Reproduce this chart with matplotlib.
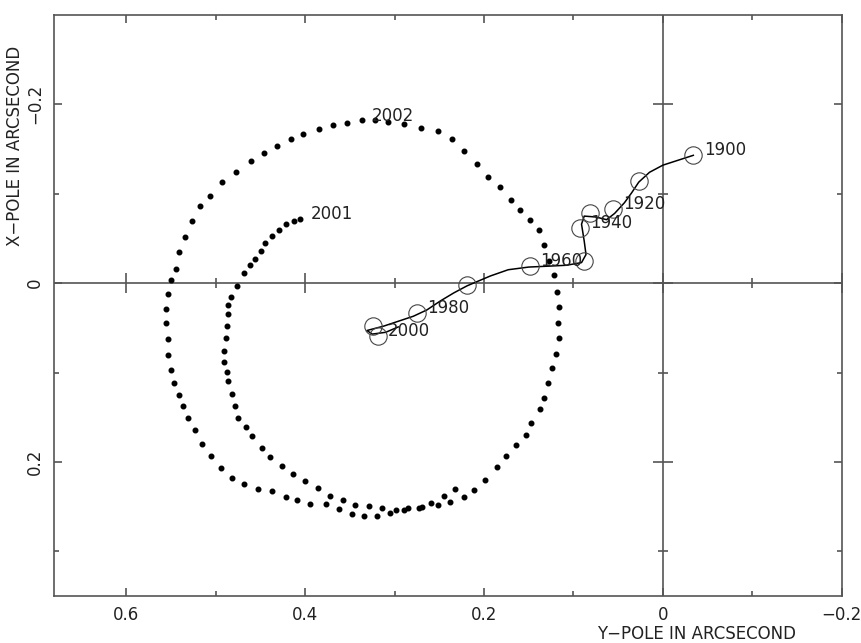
import matplotlib
matplotlib.use("Agg")
import matplotlib.pyplot as plt

# polar motion 2001-2002 (horizontal: y-pole, vertical: x-pole), arcsec
ypole_2001 = [0.406, 0.413, 0.422, 0.429, 0.437, 0.445, 0.450, 0.456, 0.462, 0.469,
              0.476, 0.483, 0.486, 0.486, 0.487, 0.489, 0.491, 0.491, 0.488, 0.486,
              0.482, 0.478, 0.475, 0.466, 0.459, 0.448, 0.439, 0.426, 0.414, 0.400,
              0.386, 0.372, 0.358, 0.344, 0.329, 0.314, 0.298, 0.285, 0.269, 0.259,
              0.245, 0.232, 0.211, 0.199, 0.186, 0.175, 0.164, 0.153, 0.148, 0.138,
              0.133, 0.128, 0.124, 0.119, 0.116, 0.117, 0.116, 0.118, 0.122, 0.127,
              0.133, 0.139, 0.149, 0.160, 0.170, 0.182, 0.196, 0.208, 0.223, 0.236,
              0.252, 0.270, 0.290, 0.307, 0.322]
xpole_2001 = [-0.072, -0.069, -0.066, -0.060, -0.053, -0.045, -0.036, -0.027, -0.020, -0.011,
              0.003, 0.016, 0.024, 0.035, 0.048, 0.061, 0.076, 0.088, 0.099, 0.110,
              0.124, 0.138, 0.151, 0.161, 0.171, 0.184, 0.195, 0.205, 0.213, 0.221,
              0.229, 0.238, 0.243, 0.248, 0.249, 0.252, 0.254, 0.251, 0.250, 0.246,
              0.238, 0.230, 0.231, 0.220, 0.206, 0.193, 0.181, 0.170, 0.157, 0.141,
              0.128, 0.112, 0.095, 0.079, 0.061, 0.045, 0.027, 0.010, -0.009, -0.025,
              -0.043, -0.060, -0.071, -0.082, -0.093, -0.107, -0.119, -0.133, -0.148, -0.161,
              -0.170, -0.174, -0.178, -0.180, -0.183]

ypole_2002 = [0.337, 0.353, 0.369, 0.385, 0.402, 0.416, 0.432, 0.446, 0.461, 0.477,
              0.493, 0.506, 0.518, 0.527, 0.535, 0.541, 0.545, 0.550, 0.553, 0.556,
              0.556, 0.554, 0.553, 0.550, 0.547, 0.541, 0.537, 0.531, 0.523, 0.515,
              0.505, 0.494, 0.482, 0.468, 0.453, 0.437, 0.422, 0.409, 0.395, 0.377,
              0.362, 0.348, 0.334, 0.320, 0.305, 0.289, 0.273, 0.252, 0.238, 0.223]
xpole_2002 = [-0.182, -0.179, -0.177, -0.173, -0.167, -0.161, -0.153, -0.146, -0.137, -0.124,
              -0.113, -0.097, -0.086, -0.070, -0.052, -0.035, -0.016, -0.003, 0.012, 0.029,
              0.045, 0.063, 0.080, 0.097, 0.112, 0.125, 0.138, 0.151, 0.164, 0.180,
              0.193, 0.207, 0.218, 0.225, 0.230, 0.233, 0.239, 0.243, 0.247, 0.247,
              0.253, 0.258, 0.261, 0.260, 0.257, 0.254, 0.251, 0.248, 0.245, 0.239]

# mean pole path 1900-2000
path_y = [-0.034, 0.000, 0.015, 0.027, 0.035, 0.043, 0.054, 0.063, 0.075, 0.088,
          0.091, 0.088, 0.086, 0.091, 0.108, 0.128, 0.150, 0.173, 0.193, 0.219,
          0.234, 0.249, 0.264, 0.279, 0.297, 0.312, 0.331, 0.325, 0.310, 0.296]
path_x = [-0.143, -0.132, -0.124, -0.113, -0.101, -0.090, -0.078, -0.071, -0.074, -0.075,
          -0.066, -0.047, -0.032, -0.023, -0.020, -0.019, -0.018, -0.015, -0.008, 0.003,
          0.011, 0.020, 0.030, 0.037, 0.043, 0.048, 0.053, 0.057, 0.055, 0.049]

decades = [1900, 1910, 1920, 1930, 1940, 1950, 1960, 1970, 1980, 1990, 2000]
decade_y = [-0.034, 0.027, 0.056, 0.082, 0.093, 0.088, 0.149, 0.219, 0.275, 0.324, 0.319]
decade_x = [-0.143, -0.114, -0.083, -0.079, -0.062, -0.025, -0.019, 0.002, 0.033, 0.048, 0.059]
labelled = [1900, 1920, 1940, 1960, 1980, 2000]

xticks_major = [0.6, 0.4, 0.2, 0.0, -0.2]
xticks_minor = [0.5, 0.3, 0.1, -0.1]
xtick_labels = ["0.6", "0.4", "0.2", "0", "\u22120.2"]
yticks_major = [-0.2, 0.0, 0.2]
yticks_minor = [-0.1, 0.1, 0.3]
ytick_labels = ["\u22120.2", "0", "0.2"]

gray = "#555555"
txt = "#222222"
plt.rcParams["font.family"] = "DejaVu Sans"

fig = plt.figure(figsize=(8.62, 6.43), dpi=100)
ax = fig.add_axes([0.0626, 0.0731, 0.9139, 0.9036])
ax.set_xlim(0.681, -0.2)
ax.set_ylim(0.35, -0.3)

# zero lines with crossing ticks
ax.axhline(0, color=gray, lw=1.2, zorder=1)
ax.axvline(0, color=gray, lw=1.2, zorder=1)
ax.plot(xticks_major, [0] * len(xticks_major), ls="none", marker="|", ms=14, mew=1.2, color=gray, zorder=1)
ax.plot(xticks_minor, [0] * len(xticks_minor), ls="none", marker="|", ms=7, mew=1.2, color=gray, zorder=1)
ax.plot([0] * len(yticks_major), yticks_major, ls="none", marker="_", ms=14, mew=1.2, color=gray, zorder=1)
ax.plot([0] * len(yticks_minor), yticks_minor, ls="none", marker="_", ms=7, mew=1.2, color=gray, zorder=1)

# pole positions 2001-2002
ax.plot(ypole_2001, xpole_2001, ls="none", marker="o", ms=3.3, color="black", zorder=3)
ax.plot(ypole_2002, xpole_2002, ls="none", marker="o", ms=3.3, color="black", zorder=3)
ax.annotate("2001", xy=(ypole_2001[0], xpole_2001[0]), xytext=(7.5, 3.5),
            textcoords="offset points", fontsize=12, color=txt, ha="left", va="center")
ax.annotate("2002", xy=(ypole_2002[0], xpole_2002[0]), xytext=(7.5, 3.5),
            textcoords="offset points", fontsize=12, color=txt, ha="left", va="center")

# mean pole path
ax.plot(path_y, path_x, color="black", lw=1.1, zorder=2)
ax.plot(decade_y, decade_x, ls="none", marker="o", ms=12.5, mfc="none", mec="#444444", mew=0.8, zorder=2)
for yr, yy, xx in zip(decades, decade_y, decade_x):
    if yr in labelled:
        ax.annotate(str(yr), xy=(yy, xx), xytext=(7.5, 3.5), textcoords="offset points",
                    fontsize=12, color=txt, ha="left", va="center")

ax.set_xticks(xticks_major)
ax.set_xticklabels(xtick_labels)
ax.set_xticks(xticks_minor, minor=True)
ax.set_yticks(yticks_major)
ax.set_yticklabels(ytick_labels, rotation=90, va="center")
ax.set_yticks(yticks_minor, minor=True)
ax.tick_params(which="both", direction="in", top=True, right=True, color=gray, width=1.2,
               labelsize=12, labelcolor=txt, pad=7)
ax.tick_params(which="major", length=6)
ax.tick_params(which="minor", length=3.5)
for sp in ax.spines.values():
    sp.set_color(gray)
    sp.set_linewidth(1.2)

ax.text(0.816, -0.065, "Y\u2212POLE IN ARCSECOND", transform=ax.transAxes,
        ha="center", va="center", fontsize=12, color=txt)
ax.text(-0.050, 0.774, "X\u2212POLE IN ARCSECOND", transform=ax.transAxes,
        ha="center", va="center", rotation=90, fontsize=12, color=txt)

fig.savefig("out.png", dpi=100)
